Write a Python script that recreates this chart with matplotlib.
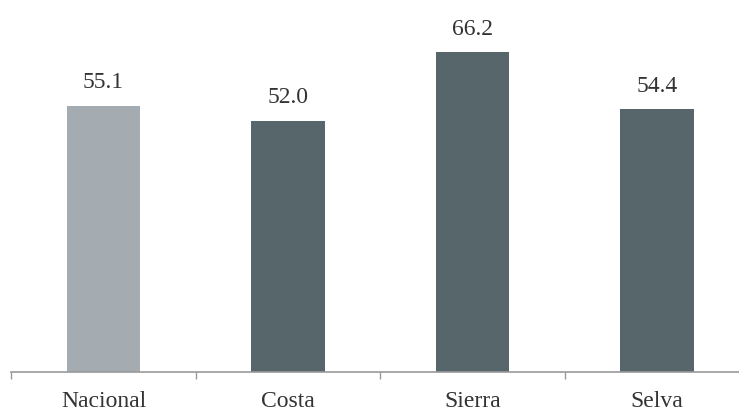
import matplotlib
matplotlib.use("Agg")
import matplotlib.pyplot as plt

categories = ["Nacional", "Costa", "Sierra", "Selva"]
values = [55.1, 52.0, 66.2, 54.4]
labels = ["55.1", "52.0", "66.2", "54.4"]
colors = ["#a4acb1", "#56666b", "#56666b", "#56666b"]

plt.rcParams['font.family'] = ['Liberation Serif', 'DejaVu Serif']

fig = plt.figure(figsize=(7.39, 4.12), dpi=100)
ax = fig.add_axes([11.25 / 739, 40 / 412, 738 / 739, 338 / 412])

x = list(range(len(categories)))
bars = ax.bar(x, values, width=0.4, color=colors, edgecolor='none')

for xi, v, lab in zip(x, values, labels):
    ax.annotate(lab, (xi, v), xytext=(0, 9), textcoords='offset points',
                ha='center', va='bottom', fontsize=17, color='#333333')

ax.set_xlim(-0.5, 3.5)
ax.set_ylim(0, 70)

ax.set_xticks([-0.5, 0.5, 1.5, 2.5, 3.5])
ax.set_xticklabels([])
ax.set_xticks(x, minor=True)
ax.set_xticklabels(categories, minor=True, fontsize=17, color='#333333')
ax.tick_params(axis='x', which='major', direction='out', length=5, width=1, color='#999999')
ax.tick_params(axis='x', which='minor', length=0, pad=14)

ax.set_yticks([])
for s in ['top', 'right', 'left']:
    ax.spines[s].set_visible(False)
ax.spines['bottom'].set_color('#999999')
ax.spines['bottom'].set_linewidth(1.2)

fig.savefig("out.png", dpi=100)
